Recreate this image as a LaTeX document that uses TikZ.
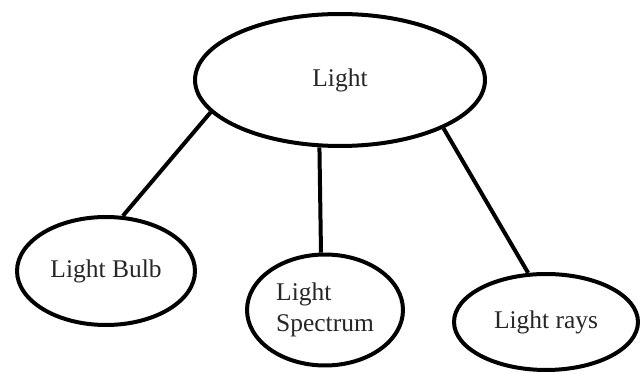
\documentclass[tikz,border=0pt]{standalone}
\usepackage{fontspec}
\setmainfont{Liberation Serif}
\usetikzlibrary{shapes.geometric}
\tikzset{
    bubble/.style={ellipse, draw=black, line width=0.08cm, inner sep=0pt, text=black!85, font=\fontsize{14.5}{17.6}\selectfont},
    link/.style={line width=0.08cm}
}
\begin{document}
\begin{tikzpicture}[x=0.02cm, y=-0.02cm]
    \useasboundingbox (0,0) rectangle (642,374);
    \node (light) [bubble, minimum width=5.8cm, minimum height=2.64cm] at (340,80) {Light};
    \node (bulb) [bubble, minimum width=3.56cm, minimum height=2.16cm] at (106,271) {Light Bulb};
    \node (spectrum) [bubble, minimum width=3.12cm, minimum height=2.22cm, align=left] at (325,310) {Light\\Spectrum};
    \node (rays) [bubble, minimum width=3.68cm, minimum height=1.92cm] at (546,322) {Light rays};

    \draw [link] (light.194.8) -- (bulb.73);
    \draw [link] (light.253.6) -- (spectrum.94);
    \draw [link] (light.335.7) -- (rays.110.8);
\end{tikzpicture}
\end{document}
